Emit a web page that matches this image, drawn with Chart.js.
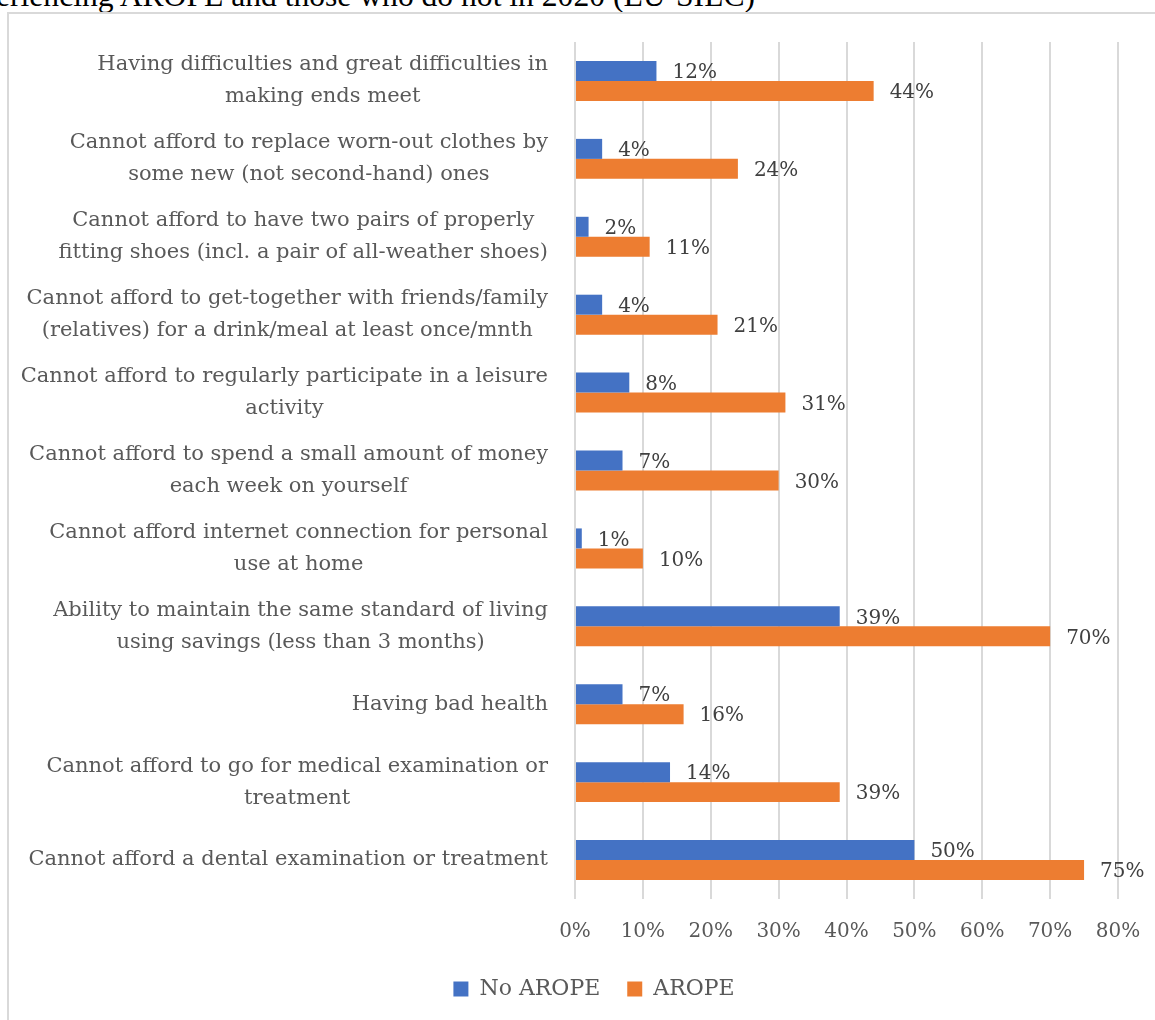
<!DOCTYPE html>
<html>
<head>
<meta charset="utf-8">
<title>AROPE deprivation indicators</title>
<script src="https://cdn.jsdelivr.net/npm/chart.js@4.4.0/dist/chart.umd.min.js"></script>
<style>
  html, body { margin: 0; padding: 0; background: #fff; overflow: hidden; }
  #page { position: relative; width: 1155px; height: 1020px; overflow: hidden; }
  #caption {
    position: absolute; left: -4px; top: -20px;
    font: 31.6px/32px "Liberation Serif", serif; color: #000; white-space: nowrap;
  }
  #frame {
    position: absolute; left: 7px; top: 12px; width: 2000px; height: 2000px;
    border: 2px solid #d9d9d9; box-sizing: border-box;
  }
  #wrap { position: absolute; left: 0; top: 0; width: 1155px; height: 1020px; }
</style>
</head>
<body>
<div id="page">
  <div id="caption">eriencing AROPE and those who do not in 2020 (EU-SILC)</div>
  <div id="frame"></div>
  <div id="wrap"><canvas id="chart"></canvas></div>
</div>
<script>
// categories (each entry = lines of the axis label)
const categories = [
    ["Having difficulties and great difficulties in", "making ends meet"],
    ["Cannot afford to replace worn-out clothes by", "some new (not second-hand) ones"],
    ["Cannot afford to have two pairs of properly", "fitting shoes (incl. a pair of all-weather shoes)"],
    ["Cannot afford to get-together with friends/family", "(relatives) for a drink/meal at least once/mnth"],
    ["Cannot afford to regularly participate in a leisure", "activity"],
    ["Cannot afford to spend a small amount of money", "each week on yourself"],
    ["Cannot afford internet connection for personal", "use at home"],
    ["Ability to maintain the same standard of living", "using savings (less than 3 months)"],
    ["Having bad health"],
    ["Cannot afford to go for medical examination or", "treatment"],
    ["Cannot afford a dental examination or treatment"]
];

// percentages
const noArope = [12, 4, 2, 4, 8, 7, 1, 39, 7, 14, 50];
const arope = [44, 24, 11, 21, 31, 30, 10, 70, 16, 39, 75];

const xTicks = [0, 10, 20, 30, 40, 50, 60, 70, 80];

const FONT = '"DejaVu Serif", serif';

// value labels to the right of each bar
const valueLabels = {
    id: "valueLabels",
    afterDatasetsDraw(chart) {
        const ctx = chart.ctx;
        ctx.save();
        ctx.font = "20px " + FONT;
        ctx.fillStyle = "#404040";
        ctx.textAlign = "left";
        ctx.textBaseline = "middle";
        chart.data.datasets.forEach((ds, i) => {
            chart.getDatasetMeta(i).data.forEach((bar, j) => {
                ctx.fillText(ds.data[j] + "%", bar.x + 16, bar.y + 2);
            });
        });
        ctx.restore();
    }
};

// category labels: block right-aligned, lines centred inside the block
const categoryLabels = {
    id: "categoryLabels",
    afterDraw(chart) {
        const ctx = chart.ctx;
        const yScale = chart.scales.y;
        const right = chart.chartArea.left - 27;
        ctx.save();
        ctx.font = "21px " + FONT;
        ctx.fillStyle = "#595959";
        ctx.textAlign = "center";
        ctx.textBaseline = "middle";
        categories.forEach((lines, i) => {
            const w = Math.max(...lines.map(t => ctx.measureText(t).width));
            const cx = right - w / 2;
            const yc = yScale.getPixelForValue(i);
            lines.forEach((t, k) => {
                ctx.fillText(t, cx, yc + (k - (lines.length - 1) / 2) * 32);
            });
        });
        ctx.restore();
    }
};

new Chart(document.getElementById("chart"), {
    type: "bar",
    data: {
        labels: categories,
        datasets: [
            {
                label: "No AROPE",
                data: noArope,
                backgroundColor: "#4472C4",
                categoryPercentage: 0.513,
                barPercentage: 1
            },
            {
                label: "AROPE",
                data: arope,
                backgroundColor: "#ED7D31",
                categoryPercentage: 0.513,
                barPercentage: 1
            }
        ]
    },
    options: {
        indexAxis: "y",
        responsive: true,
        maintainAspectRatio: false,
        animation: false,
        layout: { padding: { left: 70, right: 37, top: 42, bottom: 10 } },
        scales: {
            x: {
                min: 0,
                max: 80,
                afterBuildTicks(scale) {
                    scale.ticks = xTicks.map(v => ({ value: v }));
                },
                afterFit(scale) { scale.height = 52; },
                grid: { color: "#d9d9d9", lineWidth: 2, drawTicks: false },
                border: { display: false },
                ticks: {
                    padding: 0,
                    color: "#595959",
                    font: { family: FONT, size: 20, lineHeight: 3.3 },
                    callback: v => v + "%"
                }
            },
            y: {
                afterFit(scale) { scale.width = 505; },
                grid: { display: false },
                border: { display: false },
                ticks: { display: false }
            }
        },
        plugins: {
            legend: {
                position: "bottom",
                labels: {
                    boxWidth: 15,
                    boxHeight: 15,
                    padding: 27,
                    color: "#595959",
                    font: { family: FONT, size: 22 }
                }
            },
            tooltip: { enabled: false }
        }
    },
    plugins: [valueLabels, categoryLabels]
});
</script>
</body>
</html>
